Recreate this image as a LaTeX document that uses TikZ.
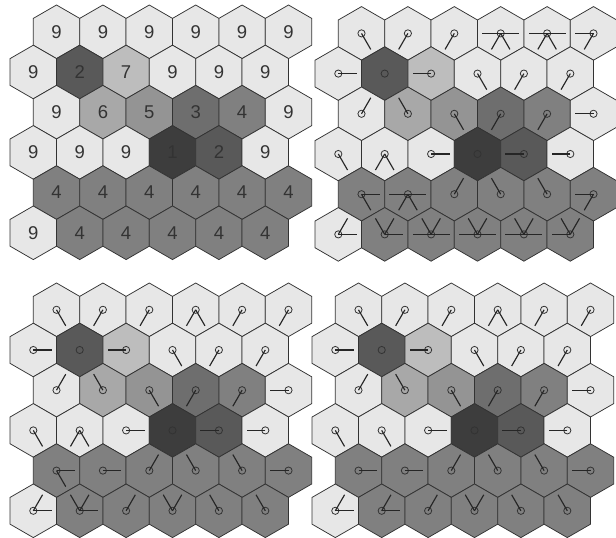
\documentclass[tikz,border=0pt]{standalone}
\usepackage{fontspec}
\setmainfont{Liberation Sans}
\usetikzlibrary{calc}

\definecolor{cost1}{gray}{0.24}
\definecolor{cost2}{gray}{0.35}
\definecolor{cost3}{gray}{0.43}
\definecolor{cost4}{gray}{0.50}
\definecolor{cost5}{gray}{0.58}
\definecolor{cost6}{gray}{0.66}
\definecolor{cost7}{gray}{0.74}
\definecolor{cost9}{gray}{0.905}
\definecolor{edgegray}{gray}{0.2}

% cost of each cell, row by row (odd rows sit half a cell to the left)
\def\costgrid{0/{9,9,9,9,9,9}, 1/{9,2,7,9,9,9}, 2/{9,6,5,3,4,9},
  3/{9,9,9,1,2,9}, 4/{4,4,4,4,4,4}, 5/{9,4,4,4,4,4}}

% flow directions of one panel: 0=E, 60=NE, 120=NW, 180=W, 240=SW, 300=SE, 999=source
\newcommand{\flowpanel}[2]{%
  \foreach \r/\row in {#2} {
    \foreach \dset [count=\c from 0] in \row {
      \draw[hub] (#1-\r-\c) circle (3.6);
      \foreach \a in \dset {
        \ifnum\a<400 \draw[dirline] (#1-\r-\c) -- ++(\a:18.5); \fi
      }
    }
  }%
}

\begin{document}
\begin{tikzpicture}[x=1pt, y=1pt,
	cell/.style={draw=edgegray, line width=0.75pt, line join=miter},
	hub/.style={draw=edgegray, line width=0.8pt},
	dirline/.style={draw=black!85, line width=1.15pt},
	costlabel/.style={font=\fontsize{18.5}{18.5}\selectfont, text=black!80, inner sep=0pt}]
	\useasboundingbox (0,0) rectangle (616,538);

	% the four hexagon grids
	\foreach \p/\ox/\oy in {a/56.5/506.2, b/361.5/504.6, c/56.5/228.2, d/358.5/228.2} {
		\foreach \r/\row in \costgrid {
			\foreach \v [count=\c from 0] in \row {
				\pgfmathsetmacro\cx{\ox + 46.4*\c - 23.2*mod(\r,2)}
				\pgfmathsetmacro\cy{\oy - 40.2*\r}
				\coordinate (\p-\r-\c) at (\cx,\cy);
				\filldraw[cell, fill=cost\v] (\p-\r-\c) ++(30:26.8) -- ++(150:26.8) -- ++(210:26.8)
					-- ++(270:26.8) -- ++(330:26.8) -- ++(30:26.8) -- cycle;
			}
		}
	}

	% cost values
	\foreach \r/\row in \costgrid {
		\foreach \v [count=\c from 0] in \row {
			\node[costlabel] (cost-\r-\c) at (a-\r-\c) {\v};
		}
	}

	\flowpanel{b}{0/{{300},{240},{240},{180,0,240,300},{180,0,240,300},{180,240}},
		1/{{0},{999},{180},{300},{240},{240}},
		2/{{60},{120},{300},{240},{240},{180}},
		3/{{300},{240,300},{0},{999},{180},{180}},
		4/{{0,300},{180,0,240,300},{60},{120},{120},{180,240}},
		5/{{0,60},{0,60,120},{180,0,60,120},{180,0,60,120},{180,0,60,120},{180,60,120}}}

	\flowpanel{c}{0/{{300},{240},{240},{240,300},{240},{240}},
		1/{{0},{999},{180},{300},{240},{240}},
		2/{{60},{120},{300},{240},{240},{180}},
		3/{{300},{240,300},{0},{999},{180},{180}},
		4/{{0,300},{0},{60},{120},{120},{180}},
		5/{{0,60},{0,60,120},{60},{60,120},{120},{120}}}

	\flowpanel{d}{0/{{300},{240},{240},{240,300},{240},{240}},
		1/{{0},{999},{180},{300},{240},{240}},
		2/{{60},{120},{300},{240},{240},{180}},
		3/{{300},{300},{0},{999},{180},{180}},
		4/{{0},{0},{60},{120},{120},{180}},
		5/{{0,60},{0,60},{60},{60,120},{120},{120}}}
\end{tikzpicture}
\end{document}
